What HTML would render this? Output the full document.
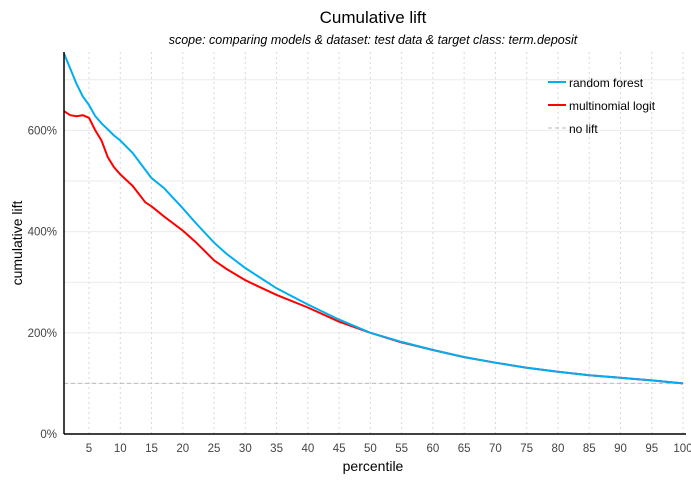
<!DOCTYPE html>
<html><head><meta charset="utf-8"><style>
body{margin:0;background:#fff;}
svg{font-family:"Liberation Sans",sans-serif;display:block}
</style></head><body>
<svg id="c" width="691" height="480">
<text x="373" y="23" text-anchor="middle" font-size="17" fill="#000">Cumulative lift</text>
<text x="373" y="44" text-anchor="middle" font-size="12.5" font-style="italic" fill="#000">scope: comparing models &amp; dataset: test data &amp; target class: term.deposit</text>
<text transform="translate(22,243) rotate(-90)" text-anchor="middle" font-size="14" fill="#000">cumulative lift</text>
<text x="373" y="471" text-anchor="middle" font-size="14" fill="#000">percentile</text>
<g id="grid"></g><g id="series"></g><g id="axes"></g>
<g>
<line x1="548" y1="82" x2="566" y2="82" stroke="#00aeef" stroke-width="2"/>
<text x="569" y="87" font-size="12">random forest</text>
<line x1="548" y1="105" x2="566" y2="105" stroke="#ff0000" stroke-width="2"/>
<text x="569" y="110" font-size="12">multinomial logit</text>
<line x1="548" y1="128" x2="566" y2="128" stroke="#bbb" stroke-width="1" stroke-dasharray="4,3"/>
<text x="569" y="133" font-size="12">no lift</text>
</g>
</svg>
<script>
const percentiles=[1,2,3,4,5,6,7,8,9,10,12,14,15,17,20,22,25,27,30,32,35,40,45,50,55,60,65,70,75,80,85,90,95,100];
const randomForest=[752,722,692,667,650,628,614,602,590,580,555,522,506,486,446,418,378,356,328,312,288,256,226,200,182,166,152,141,131,123,116,111,106,100];
const multinomialLogit=[638,630,628,630,625,600,580,547,527,513,490,458,450,430,402,380,343,326,304,292,275,250,222,200,181,166,152,141,131,123,116,111,106,100];
const yTicks=[0,200,400,600];
const xTicks=[5,10,15,20,25,30,35,40,45,50,55,60,65,70,75,80,85,90,95,100];
const L=64,R=683,T=52,B=434;
const X=p=>L+(p-1)/99*(R-L);
const Y=v=>B-v/100*50.6;
const NS="http://www.w3.org/2000/svg";
function mk(parent,tag,attrs){const e=document.createElementNS(NS,tag);for(const k in attrs)e.setAttribute(k,attrs[k]);parent.appendChild(e);return e;}
const grid=document.getElementById('grid'),ser=document.getElementById('series'),ax=document.getElementById('axes');
for(let v=100;v<=700;v+=100){const l=mk(grid,'line',{x1:L,x2:R+3,y1:Y(v),y2:Y(v),stroke:'#ebebeb','stroke-width':1});

}
xTicks.forEach(p=>{const l=mk(grid,'line',{x1:X(p),x2:X(p),y1:T,y2:B,stroke:'#d8d8d8','stroke-width':1,'stroke-dasharray':'2,3'});


const t=mk(ax,'text',{x:X(p),y:452,'text-anchor':'middle','font-size':11.5,fill:'#444'});t.textContent=p;

});
yTicks.forEach(v=>{const t=mk(ax,'text',{x:57,y:Y(v)+4,'text-anchor':'end','font-size':11.5,fill:'#444'});t.textContent=v+'%';

});
const nl=mk(ser,'line',{x1:L,x2:R,y1:Y(100),y2:Y(100),stroke:'#bbb','stroke-dasharray':'4,3'});


function line(vals,color,name){const d=percentiles.map((p,i)=>(i?'L':'M')+X(p).toFixed(1)+','+Y(vals[i]).toFixed(1)).join(' ');
const e=mk(ser,'path',{d:d,fill:'none',stroke:color,'stroke-width':2});

}
line(multinomialLogit,'#ff0000','multinomial-logit-line');
line(randomForest,'#00aeef','random-forest-line');
const ya=mk(ax,'line',{x1:L,x2:L,y1:T,y2:B,stroke:'#000','stroke-width':1.5});


const xa=mk(ax,'line',{x1:L,x2:R+3,y1:B,y2:B,stroke:'#000','stroke-width':1.5});


</script>
</body></html>
